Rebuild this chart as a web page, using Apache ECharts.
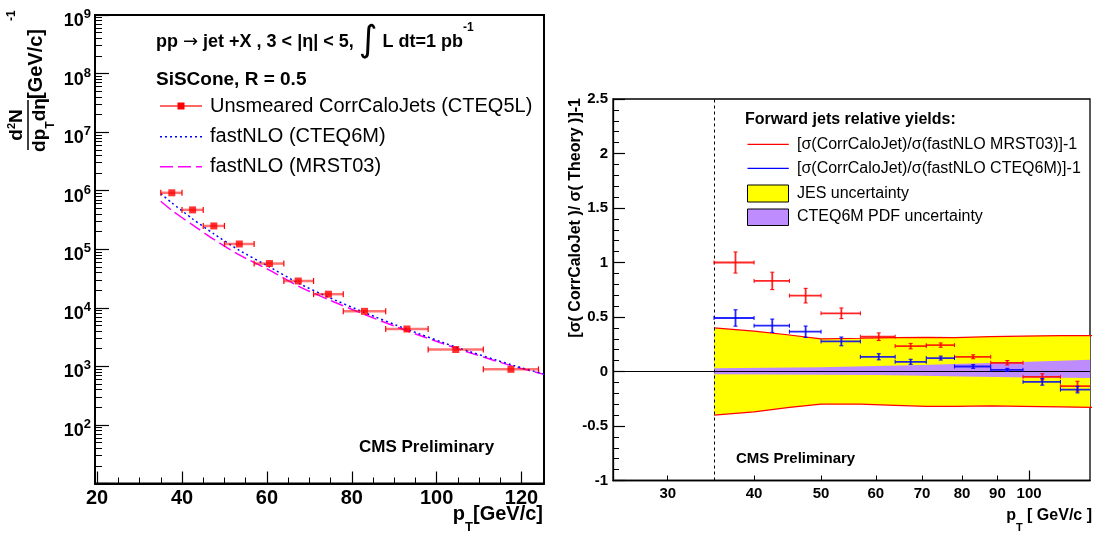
<!DOCTYPE html>
<html>
<head>
<meta charset="utf-8">
<script src="https://cdn.jsdelivr.net/npm/echarts@6/dist/echarts.min.js"></script>
<style>
  html, body { margin: 0; padding: 0; background: #fff; }
  #chart { width: 1096px; height: 538px; }
</style>
</head>
<body>
<div id="chart"></div>
<script>
// ---- data ----
const binLo = [35, 40, 45, 50, 57, 64, 71, 78, 88, 98, 111];
const binHi = [40, 45, 50, 57, 64, 71, 78, 88, 98, 111, 124];
const ptMean = [37.6, 42.5, 47.5, 53.5, 60.6, 67.4, 74.5, 83.0, 93.0, 104.5, 117.5];
const jetYield = [9.2e5, 4.7e5, 2.5e5, 1.23e5, 5.7e4, 2.87e4, 1.71e4, 8.7e3, 4.35e3, 1.94e3, 890];

const theoryPt = [35, 37.6, 42.5, 47.5, 53.5, 60.6, 67.4, 74.5, 83, 93, 104.5, 117.5, 125.3];
const nloCteq6m = [8.9e5, 6.2e5, 3.3e5, 1.83e5, 9.6e4, 5.0e4, 2.64e4, 1.52e4, 8.3e3, 4.3e3, 2.14e3, 1.07e3, 740];
const nloMrst03 = [6.6e5, 4.6e5, 2.6e5, 1.47e5, 8.0e4, 4.4e4, 2.35e4, 1.38e4, 7.7e3, 4.05e3, 2.05e3, 1.03e3, 730];

const relMrst = [1.0, 0.831, 0.696, 0.534, 0.319, 0.233, 0.242, 0.135, 0.080, -0.049, -0.135];
const relMrstErr = [0.097, 0.08, 0.067, 0.049, 0.035, 0.025, 0.02, 0.018, 0.02, 0.028, 0.045];
const relCteq = [0.491, 0.420, 0.365, 0.276, 0.135, 0.089, 0.123, 0.046, 0.015, -0.095, -0.166];
const relCteqErr = [0.075, 0.061, 0.052, 0.04, 0.028, 0.023, 0.018, 0.017, 0.014, 0.03, 0.03];

const jesPt = [35, 40, 45, 50, 57, 64, 71, 78, 88, 98, 111, 124];
const jesUp = [0.40, 0.37, 0.335, 0.30, 0.305, 0.31, 0.313, 0.31, 0.32, 0.325, 0.33, 0.33];
const jesDown = [-0.40, -0.37, -0.33, -0.30, -0.30, -0.31, -0.32, -0.32, -0.315, -0.32, -0.325, -0.33];
const pdfPt = [35, 50, 60, 70, 80, 90, 100, 124];
const pdfUp = [0.03, 0.04, 0.05, 0.06, 0.07, 0.08, 0.09, 0.11];
const pdfDown = [-0.025, -0.03, -0.033, -0.04, -0.045, -0.05, -0.055, -0.06];

// ---- ticks ----
const leftXMajor = [20, 40, 60, 80, 100, 120];
const leftXMinor = [25, 30, 35, 45, 50, 55, 65, 70, 75, 85, 90, 95, 105, 110, 115];
const leftYMajor = [1e1, 1e2, 1e3, 1e4, 1e5, 1e6, 1e7, 1e8, 1e9];
const leftYLabels = [1e2, 1e3, 1e4, 1e5, 1e6, 1e7, 1e8, 1e9];
const leftYMinor = [];
for (let e = 1; e <= 8; e++) for (let m = 2; m <= 9; m++) leftYMinor.push(m * Math.pow(10, e));
const rightXLabels = [30, 40, 50, 60, 70, 80, 90, 100];
const rightXMinor = [30, 40, 50, 60, 70, 80, 90];
const rightXMajor = [100];
const rightYMajor = [-1, -0.5, 0, 0.5, 1, 1.5, 2, 2.5];
const rightYMinor = [];
for (let k = -9; k <= 24; k++) if (k % 5 !== 0) rightYMinor.push(k / 10);

const FONT = '"Liberation Sans", Arial, Helvetica, sans-serif';
const RED = '#ff0000', BLUE = '#0000ff';

const chart = echarts.init(document.getElementById('chart'));

function axisBase(extra) {
  return Object.assign({
    axisLine: { show: false, onZero: false },
    splitLine: { show: false },
    axisLabel: { show: false },
    axisTick: { show: false }
  }, extra);
}

function tickAxis(type, grid, pos, min, max, ticks, len) {
  return axisBase({
    type: type, gridIndex: grid, position: pos, min: min, max: max,
    axisTick: { show: true, inside: true, length: len, customValues: ticks,
      lineStyle: { color: '#000', width: 1 } }
  });
}

// left error bars (horizontal only)
function leftBars(params, api) {
  const y = api.coord([api.value(0), api.value(1)])[1];
  const x0 = api.coord([api.value(2), api.value(1)])[0];
  const x1 = api.coord([api.value(3), api.value(1)])[0];
  return { type: 'group', children: [
    { type: 'line', shape: { x1: x0, y1: y, x2: x1, y2: y },
      style: { stroke: 'rgba(255,0,0,0.55)', lineWidth: 2.5 } },
    { type: 'line', shape: { x1: x0, y1: y - 3, x2: x0, y2: y + 3 }, style: { stroke: RED, lineWidth: 1.2 } },
    { type: 'line', shape: { x1: x1, y1: y - 3, x2: x1, y2: y + 3 }, style: { stroke: RED, lineWidth: 1.2 } }
  ]};
}

function crossRenderer(color) {
  return function (params, api) {
    const cs = params.coordSys;
    const c = api.coord([api.value(0), api.value(1)]);
    let x0 = api.coord([api.value(2), api.value(1)])[0];
    let x1 = api.coord([api.value(3), api.value(1)])[0];
    const yTop = api.coord([api.value(0), api.value(1) + api.value(4)])[1];
    const yBot = api.coord([api.value(0), api.value(1) - api.value(4)])[1];
    const right = cs.x + cs.width;
    const kids = [];
    const clip0 = Math.max(x0, cs.x), clip1 = Math.min(x1, right);
    kids.push({ type: 'line', shape: { x1: clip0, y1: c[1], x2: clip1, y2: c[1] }, style: { stroke: color, lineWidth: 1.8, opacity: 0.85 } });
    kids.push({ type: 'line', shape: { x1: c[0], y1: yTop, x2: c[0], y2: yBot }, style: { stroke: color, lineWidth: 1.8, opacity: 0.85 } });
    if (x0 >= cs.x) kids.push({ type: 'line', shape: { x1: x0, y1: c[1] - 2, x2: x0, y2: c[1] + 2 }, style: { stroke: color, lineWidth: 1 } });
    if (x1 <= right) kids.push({ type: 'line', shape: { x1: x1, y1: c[1] - 2, x2: x1, y2: c[1] + 2 }, style: { stroke: color, lineWidth: 1 } });
    kids.push({ type: 'line', shape: { x1: c[0] - 2, y1: yTop, x2: c[0] + 2, y2: yTop }, style: { stroke: color, lineWidth: 1 } });
    kids.push({ type: 'line', shape: { x1: c[0] - 2, y1: yBot, x2: c[0] + 2, y2: yBot }, style: { stroke: color, lineWidth: 1 } });
    return { type: 'group', children: kids };
  };
}

function bandRenderer(xs, up, down, fill) {
  return function (params, api) {
    if (params.dataIndex !== 0) return;
    const pts = [];
    for (let i = 0; i < xs.length; i++) pts.push(api.coord([xs[i], up[i]]));
    for (let i = xs.length - 1; i >= 0; i--) pts.push(api.coord([xs[i], down[i]]));
    return { type: 'polygon', shape: { points: pts }, style: { fill: fill } };
  };
}

const option = {
  animation: false,
  backgroundColor: '#fff',
  textStyle: { fontFamily: FONT },
  grid: [
    { left: 95, top: 15, width: 449, height: 468.5, show: true, borderColor: '#000', borderWidth: 2,
      backgroundColor: 'transparent', containLabel: false, outerBoundsMode: 'none' },
    { left: 613, top: 99, width: 477, height: 381.5, show: true, borderColor: '#000', borderWidth: 1.3,
      backgroundColor: 'transparent', containLabel: false, outerBoundsMode: 'none' }
  ],
  xAxis: [
    // 0: left main
    { type: 'value', gridIndex: 0, position: 'bottom', min: 19.5, max: 125.3,
      axisLine: { show: true, onZero: false, lineStyle: { color: '#000', width: 2 } },
      splitLine: { show: false },
      axisTick: { show: true, inside: true, length: 12, customValues: leftXMajor, lineStyle: { color: '#000', width: 1.2 } },
      axisLabel: { show: true, customValues: leftXMajor, margin: 5, color: '#000', fontSize: 20, fontWeight: 'bold', fontFamily: FONT } },
    // 1: left minor ticks
    tickAxis('value', 0, 'bottom', 19.5, 125.3, leftXMinor, 6),
    // 2: right main
    { type: 'log', logBase: 10, gridIndex: 1, position: 'bottom', min: 25, max: 122.5,
      axisLine: { show: true, onZero: false, lineStyle: { color: '#000', width: 1.3 } },
      splitLine: { show: false }, minorTick: { show: false },
      axisTick: { show: true, inside: true, length: 10, customValues: rightXMajor, lineStyle: { color: '#000', width: 1.2 } },
      axisLabel: { show: true, customValues: rightXLabels, margin: 6, color: '#000', fontSize: 15, fontWeight: 'bold', fontFamily: FONT,
        formatter: v => String(Math.round(v)) } },
    // 3: right minor ticks
    tickAxis('log', 1, 'bottom', 25, 122.5, rightXMinor, 5)
  ],
  yAxis: [
    // 0: left main (log)
    { type: 'log', logBase: 10, gridIndex: 0, position: 'left', min: 9.9999, max: 1.00001e9,
      axisLine: { show: true, onZero: false, lineStyle: { color: '#000', width: 2 } },
      splitLine: { show: false }, minorTick: { show: false },
      axisTick: { show: true, inside: true, length: 14, customValues: leftYMajor, lineStyle: { color: '#000', width: 1.2 } },
      axisLabel: { show: true, customValues: leftYLabels, margin: 4, color: '#000', fontSize: 18, fontWeight: 'bold',
        fontFamily: FONT, lineHeight: 26, padding: [12, 0, 0, 0],
        formatter: v => '10{s|' + Math.round(Math.log10(v)) + '}',
        rich: { s: { fontSize: 13, fontWeight: 'bold', fontFamily: FONT, verticalAlign: 'top', lineHeight: 13, color: '#000' } } } },
    // 1: left minor ticks
    tickAxis('log', 0, 'left', 9.9999, 1.00001e9, leftYMinor, 7),
    // 2: right main
    { type: 'value', gridIndex: 1, position: 'left', min: -1, max: 2.5,
      axisLine: { show: true, onZero: false, lineStyle: { color: '#000', width: 1.3 } },
      splitLine: { show: false },
      axisTick: { show: true, inside: true, length: 12, customValues: rightYMajor, lineStyle: { color: '#000', width: 1.2 } },
      axisLabel: { show: true, customValues: rightYMajor, margin: 5, color: '#000', fontSize: 15, fontWeight: 'bold', fontFamily: FONT } },
    // 3: right minor ticks
    tickAxis('value', 1, 'left', -1, 2.5, rightYMinor, 6)
  ],
  series: [
    // ---- left panel ----
    { name: 'fastNLO (MRST03)', type: 'line', xAxisIndex: 0, yAxisIndex: 0, smooth: 0.2, showSymbol: false, clip: true,
      data: theoryPt.map((x, i) => [x, nloMrst03[i]]),
      lineStyle: { color: '#ff00ff', width: 1.5, type: [13, 5] }, z: 2 },
    { name: 'fastNLO (CTEQ6M)', type: 'line', xAxisIndex: 0, yAxisIndex: 0, smooth: 0.2, showSymbol: false, clip: true,
      data: theoryPt.map((x, i) => [x, nloCteq6m[i]]),
      lineStyle: { color: BLUE, width: 1.5, type: [2, 3] }, z: 2 },
    { name: 'bars', type: 'custom', xAxisIndex: 0, yAxisIndex: 0, renderItem: leftBars, z: 3,
      data: ptMean.map((x, i) => [x, jetYield[i], binLo[i], binHi[i]]) },
    { name: 'Unsmeared CorrCaloJets (CTEQ5L)', type: 'scatter', xAxisIndex: 0, yAxisIndex: 0, symbol: 'rect', symbolSize: 7,
      itemStyle: { color: RED }, z: 4,
      data: ptMean.map((x, i) => [x, jetYield[i]]) },
    // ---- right panel ----
    { name: 'JES uncertainty', type: 'custom', xAxisIndex: 2, yAxisIndex: 2, clip: true, z: 1,
      renderItem: bandRenderer(jesPt, jesUp, jesDown, '#ffff00'),
      data: jesPt.map((x, i) => [x, jesUp[i]]) },
    { name: 'CTEQ6M PDF uncertainty', type: 'custom', xAxisIndex: 2, yAxisIndex: 2, clip: true, z: 2,
      renderItem: bandRenderer(pdfPt, pdfUp, pdfDown, '#bf8cff'),
      data: pdfPt.map((x, i) => [x, pdfUp[i]]) },
    { name: 'jesUpEdge', type: 'line', xAxisIndex: 2, yAxisIndex: 2, showSymbol: false, clip: true, z: 3,
      data: jesPt.map((x, i) => [x, jesUp[i]]), lineStyle: { color: RED, width: 1.2 },
      markLine: { silent: true, symbol: ['none', 'none'], label: { show: false },
        data: [
          { yAxis: 0, lineStyle: { color: '#000', width: 1.2, type: 'solid' } },
          { xAxis: 35, lineStyle: { color: '#000', width: 1, type: [3, 3] } }
        ] } },
    { name: 'jesDownEdge', type: 'line', xAxisIndex: 2, yAxisIndex: 2, showSymbol: false, clip: true, z: 3,
      data: jesPt.map((x, i) => [x, jesDown[i]]), lineStyle: { color: RED, width: 1.2 } },
    { name: 'MRST03 ratio', type: 'custom', xAxisIndex: 2, yAxisIndex: 2, clip: true, z: 5,
      renderItem: crossRenderer(RED),
      data: ptMean.map((x, i) => [x, relMrst[i], binLo[i], binHi[i], relMrstErr[i]]) },
    { name: 'CTEQ6M ratio', type: 'custom', xAxisIndex: 2, yAxisIndex: 2, clip: true, z: 5,
      renderItem: crossRenderer(BLUE),
      data: ptMean.map((x, i) => [x, relCteq[i], binLo[i], binHi[i], relCteqErr[i]]) }
  ],
  graphic: [
    // left y title (rotated fraction)
    { type: 'group', x: 28, y: 150, rotation: Math.PI / 2, children: [
      { type: 'text', x: 25, y: -11, style: { text: 'd{s|2}N', align: 'center', verticalAlign: 'middle',
          fontSize: 19, fontWeight: 'bold', fontFamily: FONT, fill: '#000', lineHeight: 22,
          rich: { s: { fontSize: 11, fontWeight: 'bold', verticalAlign: 'top', lineHeight: 12, fontFamily: FONT } } } },
      { type: 'line', shape: { x1: 0, y1: 0, x2: 50, y2: 0 }, style: { stroke: '#000', lineWidth: 1.5 } },
      { type: 'text', x: 25, y: 12, style: { text: 'dp{t|T}dη', align: 'center', verticalAlign: 'middle',
          fontSize: 19, fontWeight: 'bold', fontFamily: FONT, fill: '#000', lineHeight: 22,
          rich: { t: { fontSize: 12, fontWeight: 'bold', verticalAlign: 'bottom', lineHeight: 12, padding: [0, 0, -6, 0], fontFamily: FONT } } } },
      { type: 'text', x: 51, y: 8, style: { text: '[GeV/c]', align: 'left', verticalAlign: 'middle',
          fontSize: 20, fontWeight: 'bold', fontFamily: FONT, fill: '#000' } },
      { type: 'text', x: 129, y: -16, style: { text: '-1', align: 'left', verticalAlign: 'middle',
          fontSize: 12, fontWeight: 'bold', fontFamily: FONT, fill: '#000' } }
    ]},
    // left title lines
    { type: 'text', left: 156, top: 22, style: {
        text: '{b|pp }{a|→}{b| jet +X , 3 < |η| < 5, }{i|∫}{b| L dt=1 pb}{s|-1}', fill: '#000',
        rich: {
          b: { fontSize: 18, fontWeight: 'bold', fontFamily: FONT, lineHeight: 40, verticalAlign: 'middle' },
          a: { fontSize: 18, fontFamily: 'DejaVu Sans', lineHeight: 40, verticalAlign: 'middle' },
          i: { fontSize: 36, fontFamily: 'DejaVu Sans', lineHeight: 40, verticalAlign: 'middle' },
          s: { fontSize: 12, fontWeight: 'bold', fontFamily: FONT, lineHeight: 30, verticalAlign: 'top' }
        } } },
    { type: 'text', left: 156, top: 70, style: { text: 'SiSCone, R = 0.5', fontSize: 19, fontWeight: 'bold', fontFamily: FONT, fill: '#000' } },
    // left legend
    { type: 'line', shape: { x1: 160, y1: 106, x2: 202, y2: 106 }, style: { stroke: 'rgba(255,0,0,0.6)', lineWidth: 2 } },
    { type: 'rect', shape: { x: 177.5, y: 102.5, width: 7, height: 7 }, style: { fill: RED } },
    { type: 'text', x: 210, y: 106, style: { text: 'Unsmeared CorrCaloJets (CTEQ5L)', verticalAlign: 'middle', fontSize: 20, fontFamily: FONT, fill: '#000' } },
    { type: 'line', shape: { x1: 160, y1: 136.7, x2: 202, y2: 136.7 }, style: { stroke: BLUE, lineWidth: 1.5, lineDash: [2, 3] } },
    { type: 'text', x: 210, y: 136.7, style: { text: 'fastNLO (CTEQ6M)', verticalAlign: 'middle', fontSize: 20, fontFamily: FONT, fill: '#000' } },
    { type: 'line', shape: { x1: 160, y1: 166.7, x2: 202, y2: 166.7 }, style: { stroke: '#ff00ff', lineWidth: 1.5, lineDash: [13, 5] } },
    { type: 'text', x: 210, y: 166.7, style: { text: 'fastNLO (MRST03)', verticalAlign: 'middle', fontSize: 20, fontFamily: FONT, fill: '#000' } },
    { type: 'text', x: 359, y: 447, style: { text: 'CMS Preliminary', verticalAlign: 'middle', fontSize: 17, fontWeight: 'bold', fontFamily: FONT, fill: '#000' } },
    // left x title
    { type: 'text', x: 543, y: 514, style: { text: 'p{t|T}[GeV/c]', align: 'right', verticalAlign: 'middle',
        fontSize: 20, fontWeight: 'bold', fontFamily: FONT, fill: '#000', lineHeight: 24,
        rich: { t: { fontSize: 13, fontWeight: 'bold', fontFamily: FONT, verticalAlign: 'bottom', lineHeight: 13, padding: [0, 0, -8, 0] } } } },

    // right y title
    { type: 'text', x: 576, y: 98, rotation: Math.PI / 2, style: { text: '[σ( CorrCaloJet )/ σ( Theory )]-1',
        align: 'right', verticalAlign: 'middle', fontSize: 16, fontWeight: 'bold', fontFamily: FONT, fill: '#000' } },
    // right legend
    { type: 'text', x: 745, y: 120, style: { text: 'Forward jets relative yields:', verticalAlign: 'middle', fontSize: 16, fontWeight: 'bold', fontFamily: FONT, fill: '#000' } },
    { type: 'line', shape: { x1: 747.5, y1: 144.3, x2: 788.8, y2: 144.3 }, style: { stroke: RED, lineWidth: 1.2 } },
    { type: 'text', x: 797, y: 144.3, style: { text: '[σ(CorrCaloJet)/σ(fastNLO MRST03)]-1', verticalAlign: 'middle', fontSize: 16, fontFamily: FONT, fill: '#000' } },
    { type: 'line', shape: { x1: 747.5, y1: 168.3, x2: 788.8, y2: 168.3 }, style: { stroke: BLUE, lineWidth: 1.2 } },
    { type: 'text', x: 797, y: 168.3, style: { text: '[σ(CorrCaloJet)/σ(fastNLO CTEQ6M)]-1', verticalAlign: 'middle', fontSize: 16, fontFamily: FONT, fill: '#000' } },
    { type: 'rect', shape: { x: 747.5, y: 185, width: 41, height: 17 }, style: { fill: '#ffff00', stroke: '#000', lineWidth: 1 } },
    { type: 'text', x: 797, y: 193.3, style: { text: 'JES uncertainty', verticalAlign: 'middle', fontSize: 16, fontFamily: FONT, fill: '#000' } },
    { type: 'rect', shape: { x: 747.5, y: 209, width: 41, height: 16.5 }, style: { fill: '#bf8cff', stroke: '#000', lineWidth: 1 } },
    { type: 'text', x: 797, y: 217, style: { text: 'CTEQ6M PDF uncertainty', verticalAlign: 'middle', fontSize: 16, fontFamily: FONT, fill: '#000' } },
    { type: 'text', x: 736, y: 459, style: { text: 'CMS Preliminary', verticalAlign: 'middle', fontSize: 15, fontWeight: 'bold', fontFamily: FONT, fill: '#000' } },
    // right x title
    { type: 'text', x: 1092, y: 516, style: { text: 'p{t|T} [ GeV/c ]', align: 'right', verticalAlign: 'middle',
        fontSize: 16, fontWeight: 'bold', fontFamily: FONT, fill: '#000', lineHeight: 20,
        rich: { t: { fontSize: 11, fontWeight: 'bold', fontFamily: FONT, verticalAlign: 'bottom', lineHeight: 11, padding: [0, 0, -7, 0] } } } }
  ]
};

chart.setOption(option);
</script>
</body>
</html>
